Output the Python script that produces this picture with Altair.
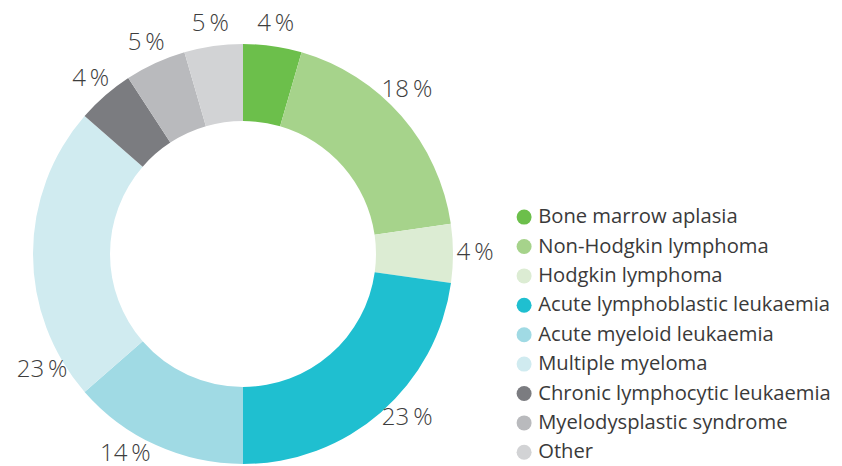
import math
import altair as alt
import pandas as pd

categories = [
    "Bone marrow aplasia",
    "Non-Hodgkin lymphoma",
    "Hodgkin lymphoma",
    "Acute lymphoblastic leukaemia",
    "Acute myeloid leukaemia",
    "Multiple myeloma",
    "Chronic lymphocytic leukaemia",
    "Myelodysplastic syndrome",
    "Other",
]
values = [4.5, 18.2, 4.5, 22.8, 13.6, 22.8, 4.4, 4.7, 4.5]
labels = ["4\u2009%", "18\u2009%", "4\u2009%", "23\u2009%", "14\u2009%",
          "23\u2009%", "4\u2009%", "5\u2009%", "5\u2009%"]
colors = ["#6cbf4b", "#a6d38b", "#dcecd3", "#1fbfd0", "#a0dae4", "#d0ebf0",
          "#7b7c80", "#b9babd", "#d2d3d5"]
# small manual angular nudges (degrees) for label placement, as in the original
label_nudge = [0, -4, 0, -4, 6, -30, 0, 0, 0]

df = pd.DataFrame({"category": categories, "value": values, "label": labels,
                   "nudge": label_nudge})
total = df["value"].sum()
df["end"] = df["value"].cumsum() / total * 360
df["start"] = df["end"] - df["value"] / total * 360
df["mid"] = (df["start"] + df["end"]) / 2 + df["nudge"]

cx, cy = 235, 246
theta_scale = alt.Scale(domain=[0, 360], range=[0, 2 * math.pi])

arcs = alt.Chart(df).mark_arc(outerRadius=210, innerRadius=133, stroke=None).encode(
    x=alt.value(cx), y=alt.value(cy),
    theta=alt.Theta("start:Q", scale=theta_scale),
    theta2="end:Q",
    color=alt.Color(
        "category:N",
        scale=alt.Scale(domain=categories, range=colors),
        legend=alt.Legend(
            title=None, orient="none", legendX=506, legendY=199,
            symbolType="circle", symbolSize=225, symbolStrokeWidth=0,
            labelFontSize=20.2, labelFont="Open Sans", labelColor="#3a3a3a",
            labelOffset=4, rowPadding=8.4, labelLimit=400,
        ),
    ),
)

text = alt.Chart(df).mark_text(
    radius=232, fontSize=24, font="Open Sans", fontWeight=300,
    color="#3d3d3d", align="center", baseline="middle",
).encode(
    x=alt.value(cx), y=alt.value(cy),
    theta=alt.Theta("mid:Q", scale=theta_scale),
    text="label:N",
)

chart = (arcs + text).properties(
    width=826, height=458, padding=0, autosize="none",
).configure_view(stroke=None)

chart.save("out.html", embed_options={"renderer": "svg", "actions": False})
